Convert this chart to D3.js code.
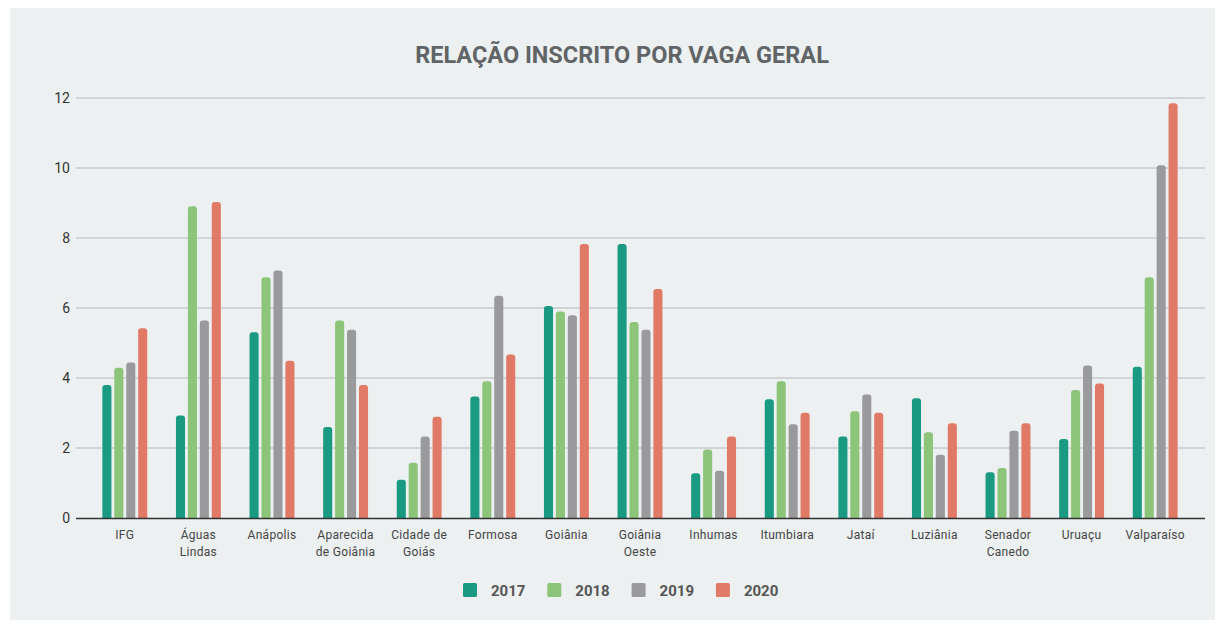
<!DOCTYPE html>
<html><head><meta charset="utf-8">
<script src="https://cdn.jsdelivr.net/npm/d3@7"></script>
<style>body{margin:0;background:#fff;font-family:Roboto,"Noto Sans",sans-serif}</style>
</head><body><svg id="c" width="1221" height="625"></svg>
<script>
const categories = ["IFG","Águas Lindas","Anápolis","Aparecida de Goiânia","Cidade de Goiás","Formosa","Goiânia","Goiânia Oeste","Inhumas","Itumbiara","Jataí","Luziânia","Senador Canedo","Uruaçu","Valparaíso"];
const labelLines = [["IFG"],["Águas","Lindas"],["Anápolis"],["Aparecida","de Goiânia"],["Cidade de","Goiás"],["Formosa"],["Goiânia"],["Goiânia","Oeste"],["Inhumas"],["Itumbiara"],["Jataí"],["Luziânia"],["Senador","Canedo"],["Uruaçu"],["Valparaíso"]];
const years = ["2017","2018","2019","2020"];
const v2017 = [3.80,2.93,5.31,2.60,1.09,3.47,6.06,7.83,1.28,3.39,2.33,3.42,1.31,2.26,4.32];
const v2018 = [4.29,8.91,6.88,5.64,1.58,3.91,5.90,5.60,1.96,3.91,3.05,2.45,1.43,3.66,6.88];
const v2019 = [4.44,5.64,7.07,5.38,2.33,6.35,5.79,5.38,1.35,2.68,3.53,1.81,2.49,4.36,10.08];
const v2020 = [5.42,9.03,4.49,3.80,2.89,4.67,7.83,6.54,2.33,3.01,3.01,2.71,2.71,3.84,11.85];
const yTicks = [0,2,4,6,8,10,12];
const colors = ["#1a9a82","#8cc47a","#9a9a9c","#e07a66"];
const series = [v2017,v2018,v2019,v2020];

const svg = d3.select("#c");
svg.append("rect").attr("x",10).attr("y",8).attr("width",1205).attr("height",612).attr("fill","#ecf0f1");

svg.append("text").attr("x",622).attr("y",62.5).attr("text-anchor","middle")
  .attr("font-size",23.5).attr("font-weight",700).attr("fill","#616466")
  .text("RELAÇÃO INSCRITO POR VAGA GERAL");

const y = d3.scaleLinear().domain([0,12]).range([518,98]);
const x0 = d3.scaleBand().domain(categories).range([88,1192]).paddingInner(0.39).paddingOuter(0.195);
const x1 = d3.scaleBand().domain(years).range([0,x0.bandwidth()]).paddingInner(0.24);

const g = svg.append("g");
g.selectAll("line.grid").data(yTicks.filter(d=>d>0)).join("line")
  .attr("x1",76).attr("x2",1205).attr("y1",d=>y(d)).attr("y2",d=>y(d))
  .attr("stroke","#c9cbcc").attr("stroke-width",1.5);

const yAxis = d3.axisLeft(y).tickValues(yTicks).tickSize(0).tickPadding(0);
const ya = svg.append("g").attr("transform","translate(70,0)").call(yAxis);
ya.select(".domain").remove();
ya.selectAll("text").attr("font-size",14).attr("fill","#333").attr("font-family","Roboto,sans-serif");

const bars = [];
categories.forEach((c,i)=>series.forEach((s,j)=>bars.push({c,yr:years[j],v:s[i],col:colors[j]})));
const r = 3;
g.selectAll("path.bar").data(bars).join("path")
  .attr("fill",d=>d.col)
  .attr("d",d=>{
    const x = x0(d.c)+x1(d.yr), w = x1.bandwidth(), top = y(d.v), bot = y(0);
    return `M${x},${bot}V${top+r}Q${x},${top} ${x+r},${top}H${x+w-r}Q${x+w},${top} ${x+w},${top+r}V${bot}Z`;
  });

svg.append("line").attr("x1",76).attr("x2",1205).attr("y1",518.5).attr("y2",518.5).attr("stroke","#333").attr("stroke-width",1.5);

const xl = svg.append("g");
categories.forEach((c,i)=>{
  const t = xl.append("text").attr("x",x0(c)+x0.bandwidth()/2).attr("y",538.5).attr("text-anchor","middle")
    .attr("font-size",12).attr("letter-spacing",0.3).attr("fill","#444");
  labelLines[i].forEach((ln,k)=>t.append("tspan").attr("x",x0(c)+x0.bandwidth()/2).attr("dy",k?17:0).text(ln));
});

const leg = svg.append("g");
years.forEach((yr,j)=>{
  const lx = 463 + j*84.3;
  leg.append("rect").attr("x",lx).attr("y",583).attr("width",14).attr("height",14).attr("rx",1.5).attr("fill",colors[j]);
  leg.append("text").attr("x",lx+28).attr("y",595.5).attr("font-size",15).attr("font-weight",700).attr("fill","#555").text(yr);
});
</script></body></html>
